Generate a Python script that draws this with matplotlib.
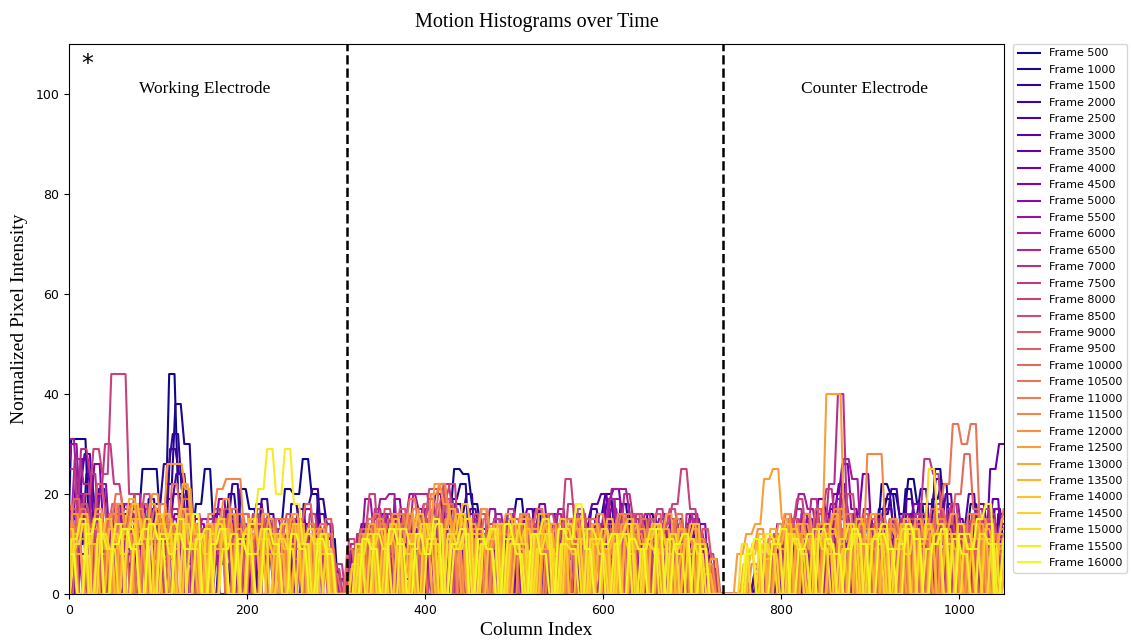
import numpy as np
import matplotlib
matplotlib.use("Agg")
import matplotlib.pyplot as plt

# ---------------- data (10-column resolution) ----------------
frames = [500 * (i + 1) for i in range(32)]

# Working electrode region: columns 0..300
left_vals = [
    [8, 31, 31, 12, 0, 6, 14, 18, 15, 25, 25, 14, 44, 20, 10, 18, 25, 12, 6, 0, 21, 17, 10, 0, 13, 21, 20, 27, 20, 12, 11],
    [0, 10, 24, 16, 8, 0, 12, 17, 9, 19, 6, 22, 38, 30, 14, 8, 0, 11, 20, 13, 7, 0, 15, 9, 0, 18, 12, 6, 19, 14, 0],
    [5, 14, 20, 9, 0, 13, 7, 16, 11, 4, 18, 26, 32, 21, 9, 0, 14, 8, 17, 5, 0, 12, 19, 11, 6, 0, 15, 9, 13, 7, 2],
    [12, 0, 8, 15, 21, 10, 0, 6, 14, 9, 17, 12, 29, 24, 16, 5, 0, 10, 15, 22, 8, 0, 11, 16, 4, 12, 0, 18, 21, 10, 6],
    [0, 18, 11, 5, 0, 9, 16, 12, 0, 7, 14, 19, 24, 15, 0, 11, 6, 14, 9, 0, 13, 18, 7, 0, 10, 15, 11, 4, 16, 9, 0],
    [10, 22, 28, 14, 0, 8, 12, 5, 16, 10, 0, 13, 20, 17, 9, 0, 12, 7, 15, 11, 0, 9, 14, 6, 0, 12, 17, 10, 5, 14, 0],
    [6, 0, 27, 19, 10, 0, 14, 9, 0, 12, 17, 8, 15, 11, 0, 7, 13, 16, 6, 0, 10, 14, 8, 0, 13, 7, 15, 11, 0, 8, 4],
    [15, 20, 9, 0, 13, 18, 6, 0, 11, 16, 9, 14, 0, 10, 15, 7, 0, 12, 8, 14, 0, 9, 13, 5, 0, 11, 14, 8, 12, 0, 3],
    [0, 12, 17, 26, 13, 0, 9, 14, 18, 7, 0, 12, 16, 10, 5, 0, 13, 19, 11, 0, 8, 12, 16, 9, 0, 14, 10, 6, 13, 8, 0],
    [18, 9, 0, 14, 22, 11, 0, 8, 13, 17, 9, 0, 15, 11, 6, 14, 0, 9, 13, 7, 16, 0, 10, 14, 8, 0, 12, 17, 9, 0, 5],
    [23, 30, 15, 8, 0, 12, 16, 9, 0, 14, 11, 6, 0, 13, 17, 10, 0, 8, 14, 11, 0, 12, 7, 15, 0, 9, 13, 6, 0, 11, 7],
    [31, 20, 12, 0, 9, 14, 18, 11, 0, 7, 13, 16, 9, 0, 12, 15, 8, 0, 11, 14, 6, 0, 10, 15, 12, 0, 8, 13, 9, 14, 0],
    [14, 27, 22, 10, 0, 13, 8, 16, 11, 0, 9, 14, 17, 8, 0, 12, 15, 10, 0, 13, 9, 16, 0, 11, 7, 14, 0, 9, 12, 6, 0],
    [0, 16, 29, 24, 12, 0, 9, 14, 20, 11, 0, 13, 8, 15, 10, 0, 12, 17, 9, 0, 14, 11, 6, 0, 13, 9, 15, 0, 10, 7, 0],
    [25, 13, 0, 20, 30, 22, 17, 9, 0, 14, 11, 7, 0, 13, 16, 9, 0, 12, 15, 8, 0, 10, 14, 11, 0, 13, 8, 16, 10, 0, 6],
    [9, 14, 20, 29, 24, 44, 44, 20, 12, 0, 15, 9, 13, 17, 10, 0, 12, 8, 14, 0, 11, 16, 9, 13, 0, 10, 14, 7, 0, 12, 5],
    [0, 11, 18, 13, 0, 16, 10, 0, 14, 20, 12, 7, 0, 15, 9, 13, 0, 11, 17, 8, 0, 14, 10, 0, 12, 16, 9, 0, 13, 8, 0],
    [17, 0, 12, 22, 15, 9, 0, 13, 18, 10, 0, 14, 11, 16, 8, 0, 12, 15, 9, 0, 13, 17, 10, 0, 11, 14, 8, 0, 12, 9, 0],
    [0, 15, 10, 0, 13, 18, 11, 0, 16, 12, 8, 0, 14, 19, 10, 0, 13, 9, 16, 11, 0, 12, 15, 8, 0, 14, 10, 0, 11, 15, 0],
    [12, 19, 0, 14, 9, 0, 16, 11, 0, 13, 17, 10, 22, 14, 0, 12, 9, 15, 0, 11, 16, 8, 0, 13, 10, 0, 14, 18, 11, 0, 4],
    [0, 13, 17, 10, 0, 15, 20, 12, 0, 9, 14, 18, 11, 0, 16, 12, 0, 14, 10, 17, 0, 13, 9, 0, 15, 11, 7, 0, 12, 14, 0],
    [14, 0, 11, 16, 9, 0, 13, 18, 14, 0, 10, 15, 12, 17, 0, 11, 14, 9, 0, 16, 12, 0, 13, 8, 15, 0, 10, 14, 0, 12, 0],
    [18, 10, 0, 13, 8, 16, 0, 12, 17, 11, 0, 14, 9, 15, 12, 0, 16, 21, 23, 23, 12, 0, 13, 9, 0, 15, 11, 0, 13, 8, 0],
    [0, 16, 11, 0, 14, 9, 18, 12, 0, 15, 20, 13, 0, 11, 16, 10, 0, 14, 19, 12, 0, 13, 9, 15, 0, 11, 14, 0, 12, 9, 0],
    [10, 0, 13, 17, 9, 0, 12, 15, 0, 18, 14, 26, 26, 21, 10, 0, 13, 9, 16, 0, 11, 14, 8, 0, 12, 16, 10, 0, 13, 8, 0],
    [13, 8, 0, 15, 11, 0, 14, 19, 10, 0, 12, 16, 9, 22, 14, 0, 11, 15, 0, 13, 9, 0, 16, 12, 0, 10, 14, 0, 11, 8, 0],
    [0, 12, 16, 10, 0, 13, 9, 0, 15, 11, 14, 0, 12, 17, 10, 0, 14, 9, 13, 0, 11, 15, 0, 12, 8, 0, 14, 10, 0, 12, 0],
    [9, 14, 0, 11, 15, 0, 13, 18, 11, 0, 14, 10, 0, 16, 12, 8, 0, 13, 10, 0, 15, 11, 0, 12, 9, 14, 0, 11, 8, 0, 0],
    [13, 0, 10, 15, 0, 12, 8, 14, 0, 11, 16, 12, 0, 14, 9, 0, 12, 15, 0, 10, 13, 0, 11, 8, 14, 0, 10, 13, 0, 9, 0],
    [0, 10, 14, 0, 12, 9, 0, 13, 10, 15, 0, 11, 14, 0, 9, 12, 0, 14, 10, 0, 12, 8, 13, 0, 11, 9, 0, 12, 10, 0, 0],
    [0, 11, 15, 0, 12, 9, 14, 0, 10, 13, 0, 12, 8, 15, 0, 11, 13, 0, 9, 12, 0, 14, 21, 29, 20, 29, 18, 10, 0, 12, 0],
    [8, 0, 12, 15, 0, 10, 13, 9, 0, 14, 11, 0, 12, 9, 16, 0, 10, 13, 0, 11, 8, 0, 13, 10, 0, 12, 9, 0, 11, 8, 0],
]

# Middle region: columns 320..720
mid_vals = [
    [4, 9, 14, 0, 6, 15, 10, 3, 12, 0, 8, 16, 25, 24, 18, 12, 9, 0, 14, 19, 12, 17, 5, 0, 10, 7, 0, 12, 16, 20, 14, 18, 9, 0, 15, 13, 11, 15, 6, 12, 8],
    [0, 6, 11, 3, 14, 8, 0, 10, 17, 12, 5, 19, 22, 9, 0, 13, 7, 15, 10, 0, 4, 12, 16, 8, 0, 11, 6, 14, 0, 9, 18, 12, 5, 16, 10, 0, 13, 8, 11, 9, 0],
    [7, 0, 12, 5, 9, 15, 3, 0, 11, 14, 8, 0, 16, 20, 7, 12, 0, 9, 6, 15, 11, 0, 8, 13, 4, 0, 10, 17, 12, 6, 0, 14, 11, 8, 0, 12, 15, 7, 10, 4, 0],
    [0, 10, 4, 13, 0, 7, 12, 9, 0, 15, 6, 11, 18, 14, 0, 8, 12, 5, 0, 10, 14, 7, 0, 12, 9, 15, 0, 6, 13, 18, 11, 0, 9, 14, 5, 0, 11, 8, 14, 6, 3],
    [3, 0, 9, 15, 7, 0, 12, 5, 14, 8, 0, 13, 10, 17, 12, 0, 6, 11, 0, 14, 8, 4, 13, 0, 9, 16, 10, 0, 17, 12, 6, 0, 15, 9, 12, 0, 7, 13, 0, 10, 5],
    [0, 8, 13, 6, 0, 11, 16, 9, 4, 0, 12, 17, 8, 13, 0, 10, 15, 6, 0, 12, 9, 14, 0, 7, 11, 0, 15, 18, 20, 12, 6, 0, 13, 10, 7, 0, 14, 9, 16, 11, 0],
    [0, 12, 7, 0, 15, 10, 5, 13, 0, 9, 14, 19, 11, 0, 8, 13, 6, 10, 0, 14, 17, 9, 0, 11, 6, 0, 12, 15, 8, 13, 0, 10, 7, 14, 0, 9, 12, 6, 13, 0, 7],
    [6, 0, 11, 16, 8, 0, 13, 9, 15, 20, 12, 0, 7, 14, 10, 0, 12, 16, 8, 0, 11, 15, 6, 0, 13, 9, 14, 0, 19, 21, 15, 8, 0, 12, 14, 7, 0, 10, 15, 9, 0],
    [9, 14, 0, 8, 12, 5, 0, 15, 18, 10, 0, 13, 9, 16, 0, 11, 7, 14, 0, 9, 13, 18, 10, 0, 15, 12, 8, 0, 14, 17, 11, 0, 9, 13, 0, 16, 10, 6, 12, 14, 0],
    [0, 10, 15, 8, 0, 19, 12, 6, 0, 14, 9, 13, 0, 11, 16, 8, 0, 13, 10, 0, 15, 9, 12, 0, 8, 14, 0, 11, 16, 9, 0, 13, 8, 15, 0, 10, 14, 7, 0, 12, 6],
    [0, 9, 19, 12, 0, 7, 15, 20, 17, 10, 0, 13, 8, 0, 14, 11, 17, 6, 0, 12, 9, 0, 15, 10, 6, 0, 12, 8, 14, 0, 19, 13, 9, 0, 11, 15, 8, 0, 13, 9, 0],
    [8, 0, 14, 19, 20, 9, 0, 12, 17, 6, 0, 15, 11, 8, 0, 13, 16, 10, 0, 9, 14, 0, 11, 17, 8, 0, 13, 9, 15, 21, 21, 16, 11, 0, 14, 9, 0, 12, 16, 10, 4],
    [10, 0, 13, 8, 16, 0, 11, 20, 20, 14, 7, 0, 12, 9, 15, 0, 10, 14, 8, 0, 13, 11, 0, 16, 9, 12, 0, 8, 14, 19, 11, 0, 12, 16, 7, 0, 13, 10, 15, 8, 0],
    [0, 12, 8, 17, 10, 0, 14, 9, 13, 19, 12, 0, 10, 15, 7, 0, 13, 11, 17, 8, 0, 12, 9, 14, 0, 11, 16, 8, 0, 13, 10, 20, 15, 0, 9, 14, 11, 0, 16, 12, 0],
    [7, 0, 15, 11, 0, 13, 9, 16, 10, 0, 22, 17, 12, 0, 9, 14, 8, 0, 12, 16, 11, 0, 14, 9, 18, 0, 10, 13, 7, 0, 15, 11, 0, 12, 17, 9, 0, 13, 10, 6, 0],
    [0, 13, 20, 9, 0, 12, 16, 11, 0, 14, 19, 22, 10, 0, 13, 8, 15, 0, 11, 9, 14, 0, 16, 12, 23, 15, 0, 10, 13, 7, 0, 12, 16, 9, 0, 14, 18, 25, 17, 11, 8],
    [11, 0, 14, 9, 17, 12, 0, 10, 15, 21, 21, 13, 0, 11, 16, 9, 0, 14, 10, 0, 12, 17, 8, 0, 13, 10, 15, 0, 9, 14, 11, 0, 16, 10, 0, 13, 17, 12, 0, 9, 5],
    [0, 9, 14, 0, 12, 17, 10, 0, 15, 11, 19, 0, 13, 9, 16, 0, 12, 14, 8, 0, 11, 15, 0, 13, 9, 17, 12, 0, 10, 14, 0, 12, 8, 15, 0, 11, 14, 9, 0, 13, 7],
    [6, 13, 0, 10, 15, 9, 0, 12, 18, 14, 0, 11, 16, 10, 0, 13, 9, 0, 15, 11, 0, 12, 8, 14, 0, 10, 15, 11, 0, 13, 9, 0, 14, 10, 16, 0, 12, 8, 0, 11, 0],
    [0, 10, 15, 0, 12, 8, 16, 0, 11, 14, 22, 18, 0, 13, 9, 15, 0, 12, 10, 0, 14, 17, 9, 0, 11, 13, 0, 15, 10, 0, 12, 16, 0, 11, 14, 8, 0, 13, 9, 0, 6],
    [9, 0, 12, 16, 10, 0, 14, 19, 13, 0, 11, 15, 8, 0, 13, 17, 12, 0, 10, 14, 0, 12, 16, 9, 0, 15, 11, 0, 13, 8, 14, 0, 10, 15, 0, 12, 9, 16, 0, 11, 4],
    [0, 11, 8, 14, 0, 16, 12, 0, 13, 18, 10, 0, 15, 11, 0, 9, 14, 0, 12, 16, 10, 0, 13, 9, 15, 0, 11, 14, 0, 12, 16, 9, 0, 13, 10, 0, 15, 11, 0, 9, 0],
    [5, 12, 0, 15, 10, 0, 13, 17, 11, 20, 22, 14, 0, 12, 9, 0, 14, 11, 0, 16, 12, 0, 13, 9, 0, 15, 10, 13, 0, 11, 16, 0, 12, 9, 14, 0, 10, 13, 0, 11, 6],
    [0, 8, 13, 0, 11, 16, 9, 0, 14, 12, 0, 15, 10, 0, 13, 17, 11, 0, 12, 9, 15, 0, 13, 10, 0, 14, 11, 0, 16, 12, 0, 10, 14, 0, 12, 9, 0, 13, 11, 0, 5],
    [0, 12, 9, 0, 14, 10, 16, 0, 13, 22, 18, 11, 0, 14, 9, 0, 12, 16, 10, 0, 13, 9, 14, 0, 11, 15, 0, 12, 10, 0, 14, 9, 13, 0, 11, 16, 0, 10, 13, 0, 7],
    [0, 10, 14, 0, 12, 8, 0, 15, 11, 0, 13, 17, 10, 0, 12, 9, 14, 0, 11, 15, 0, 16, 12, 0, 10, 13, 0, 14, 9, 0, 12, 15, 0, 11, 8, 13, 0, 10, 14, 0, 0],
    [0, 9, 0, 13, 10, 15, 0, 12, 8, 14, 0, 11, 16, 12, 0, 10, 13, 0, 15, 9, 0, 12, 14, 0, 11, 8, 13, 0, 10, 15, 0, 12, 9, 0, 14, 11, 0, 13, 8, 0, 4],
    [0, 11, 0, 9, 14, 0, 12, 16, 10, 0, 13, 9, 18, 12, 0, 11, 14, 0, 10, 13, 0, 12, 8, 15, 0, 11, 13, 0, 9, 12, 0, 14, 10, 0, 12, 8, 0, 11, 14, 0, 0],
    [6, 0, 10, 13, 0, 11, 8, 0, 14, 10, 0, 12, 16, 0, 13, 9, 0, 11, 14, 10, 0, 12, 9, 0, 14, 11, 0, 10, 13, 0, 12, 8, 0, 11, 14, 0, 9, 12, 0, 10, 0],
    [0, 8, 12, 0, 10, 13, 0, 9, 14, 11, 0, 12, 9, 15, 0, 11, 13, 0, 10, 14, 0, 9, 12, 0, 13, 10, 0, 11, 8, 0, 12, 14, 0, 10, 9, 0, 12, 0, 11, 8, 0],
    [0, 10, 0, 12, 9, 0, 13, 10, 0, 11, 14, 0, 9, 12, 0, 10, 13, 0, 11, 8, 0, 12, 15, 0, 10, 9, 0, 13, 11, 0, 10, 12, 0, 9, 13, 0, 11, 8, 0, 10, 0],
    [0, 11, 9, 0, 13, 10, 0, 12, 8, 15, 0, 10, 13, 0, 11, 9, 0, 14, 10, 0, 12, 8, 0, 13, 11, 18, 9, 0, 10, 12, 0, 11, 9, 0, 13, 0, 10, 12, 0, 9, 0],
]

# Counter electrode region: columns 740..1050
right_vals = [
    [0, 0, 0, 0, 3, 8, 0, 5, 12, 6, 0, 9, 14, 0, 10, 7, 0, 12, 22, 20, 16, 23, 18, 9, 25, 15, 6, 12, 18, 0, 8, 14],
    [0, 0, 0, 4, 0, 6, 10, 0, 8, 13, 5, 0, 11, 7, 0, 14, 9, 17, 20, 12, 21, 15, 8, 19, 22, 10, 0, 14, 6, 11, 17, 9],
    [0, 0, 2, 0, 5, 0, 9, 4, 0, 11, 7, 13, 0, 8, 12, 0, 6, 15, 19, 11, 0, 16, 21, 13, 7, 18, 12, 0, 9, 15, 5, 11],
    [0, 0, 0, 0, 0, 7, 3, 0, 10, 6, 0, 12, 8, 0, 5, 13, 9, 0, 16, 21, 14, 9, 0, 18, 23, 11, 5, 0, 13, 8, 0, 16],
    [0, 0, 0, 5, 0, 0, 8, 11, 0, 6, 14, 9, 0, 12, 7, 0, 11, 15, 8, 0, 19, 13, 6, 16, 10, 0, 14, 20, 9, 0, 12, 7],
    [0, 0, 0, 0, 4, 9, 0, 13, 7, 0, 11, 16, 10, 0, 14, 8, 0, 12, 17, 9, 0, 13, 18, 11, 6, 0, 15, 10, 0, 13, 19, 8],
    [0, 0, 0, 0, 0, 6, 11, 0, 8, 14, 0, 10, 17, 22, 12, 0, 9, 14, 6, 0, 12, 16, 9, 0, 14, 20, 11, 0, 16, 9, 25, 30],
    [0, 0, 0, 0, 7, 0, 10, 15, 0, 12, 19, 14, 8, 0, 16, 24, 11, 0, 13, 8, 0, 15, 11, 0, 9, 14, 7, 0, 18, 12, 0, 10],
    [0, 0, 0, 0, 0, 0, 12, 8, 0, 15, 10, 0, 20, 26, 17, 9, 0, 14, 11, 0, 13, 18, 9, 0, 12, 16, 8, 14, 0, 11, 17, 13],
    [0, 0, 0, 0, 0, 9, 14, 0, 11, 7, 0, 13, 18, 10, 0, 12, 15, 0, 9, 14, 0, 11, 16, 7, 0, 13, 9, 0, 15, 11, 6, 14],
    [0, 0, 0, 0, 0, 0, 8, 13, 0, 16, 11, 0, 14, 19, 9, 0, 17, 12, 7, 0, 13, 10, 0, 15, 11, 0, 18, 12, 0, 9, 14, 8],
    [0, 0, 0, 0, 6, 0, 11, 15, 20, 17, 12, 0, 14, 27, 23, 10, 0, 15, 9, 0, 12, 16, 0, 10, 14, 8, 0, 13, 17, 9, 0, 12],
    [0, 0, 0, 0, 0, 8, 0, 12, 17, 10, 0, 15, 11, 20, 14, 0, 9, 13, 0, 11, 16, 10, 0, 14, 9, 17, 0, 12, 8, 15, 0, 10],
    [0, 0, 0, 0, 0, 7, 12, 0, 15, 10, 19, 13, 22, 40, 16, 0, 11, 14, 8, 0, 15, 10, 0, 13, 18, 9, 0, 14, 11, 0, 16, 9],
    [0, 0, 0, 0, 0, 0, 9, 13, 0, 11, 16, 21, 14, 0, 10, 15, 9, 0, 13, 8, 0, 16, 27, 24, 12, 18, 10, 0, 14, 9, 0, 12],
    [0, 0, 0, 0, 0, 10, 0, 14, 19, 12, 0, 15, 9, 17, 0, 12, 8, 14, 0, 10, 13, 0, 16, 11, 0, 14, 9, 0, 12, 17, 0, 10],
    [0, 0, 0, 0, 0, 0, 11, 16, 10, 0, 13, 8, 0, 15, 20, 12, 0, 14, 9, 0, 11, 15, 0, 13, 17, 10, 0, 12, 16, 8, 0, 11],
    [0, 0, 0, 0, 0, 12, 0, 15, 10, 0, 17, 12, 0, 14, 9, 16, 0, 11, 15, 0, 13, 9, 0, 16, 12, 0, 14, 10, 0, 15, 11, 0],
    [0, 0, 0, 0, 0, 0, 9, 14, 0, 12, 17, 10, 0, 13, 8, 0, 15, 11, 0, 14, 9, 0, 12, 17, 0, 10, 14, 0, 13, 9, 0, 12],
    [0, 0, 0, 0, 0, 11, 0, 14, 9, 16, 0, 12, 15, 0, 10, 13, 0, 16, 11, 0, 14, 9, 0, 12, 17, 14, 20, 28, 17, 0, 11, 8],
    [0, 0, 0, 0, 0, 0, 10, 15, 0, 12, 8, 14, 0, 11, 16, 0, 13, 9, 0, 15, 11, 0, 14, 10, 17, 22, 34, 30, 34, 15, 0, 12],
    [0, 0, 0, 0, 8, 0, 12, 0, 14, 10, 0, 13, 17, 0, 11, 15, 9, 0, 14, 12, 0, 10, 15, 0, 13, 9, 0, 16, 11, 0, 12, 17],
    [0, 0, 0, 6, 0, 10, 14, 0, 12, 16, 0, 11, 15, 0, 13, 9, 28, 28, 14, 12, 0, 13, 9, 0, 15, 11, 0, 12, 16, 0, 10, 13],
    [0, 0, 0, 9, 13, 0, 11, 16, 0, 14, 10, 0, 12, 17, 11, 0, 13, 9, 0, 15, 12, 0, 10, 14, 0, 13, 9, 0, 11, 15, 0, 12],
    [0, 8, 12, 14, 23, 25, 15, 0, 12, 9, 14, 40, 40, 13, 0, 11, 16, 0, 13, 9, 0, 15, 11, 0, 12, 16, 0, 10, 14, 0, 9, 12],
    [0, 0, 6, 10, 0, 13, 9, 0, 14, 11, 0, 12, 16, 0, 10, 14, 0, 13, 9, 0, 15, 11, 0, 12, 14, 0, 11, 9, 0, 13, 10, 15],
    [0, 0, 0, 8, 12, 0, 10, 14, 0, 11, 8, 0, 13, 10, 0, 15, 11, 0, 12, 9, 14, 0, 10, 13, 0, 12, 9, 0, 14, 11, 0, 10],
    [0, 0, 9, 0, 7, 11, 0, 13, 9, 0, 12, 8, 0, 14, 10, 0, 11, 13, 0, 9, 12, 0, 14, 10, 0, 12, 8, 0, 11, 14, 0, 9],
    [0, 0, 0, 0, 10, 8, 0, 12, 9, 0, 11, 14, 0, 9, 12, 0, 13, 10, 0, 11, 8, 13, 0, 10, 12, 0, 14, 9, 0, 11, 0, 8],
    [0, 0, 10, 0, 11, 8, 0, 12, 10, 0, 13, 9, 0, 11, 14, 0, 10, 12, 0, 9, 13, 0, 11, 25, 14, 10, 0, 12, 9, 0, 10, 0],
    [0, 0, 0, 9, 0, 12, 10, 0, 11, 8, 0, 13, 10, 0, 9, 12, 0, 11, 14, 0, 10, 13, 0, 9, 12, 0, 11, 8, 0, 12, 10, 0],
    [0, 0, 8, 11, 0, 10, 13, 0, 9, 12, 0, 11, 8, 0, 13, 10, 0, 12, 9, 0, 14, 11, 0, 10, 13, 0, 12, 9, 15, 18, 0, 11],
]

boundaries = [312, 734]
region_labels = ["Working Electrode", "Counter Electrode"]


def plateau_path(xc, v, half=3.0):
    """Each reading is drawn as a short plateau joined to the next by a steep edge."""
    xs = np.empty(2 * len(xc))
    ys = np.empty(2 * len(xc))
    xs[0::2] = xc - half
    xs[1::2] = xc + half
    ys[0::2] = v
    ys[1::2] = v
    return xs, ys


# ---------------- plot ----------------
fig = plt.figure(figsize=(11.31, 6.4), dpi=100)
ax = fig.add_axes([69 / 1131, 46 / 640, 935 / 1131, 550 / 640])

colors = plt.cm.plasma(np.linspace(0, 1, len(frames)))
step = 10
for i, fr in enumerate(frames):
    L = np.asarray(left_vals[i], float)
    M = np.asarray(mid_vals[i], float)
    R = np.asarray(right_vals[i], float)
    shift = ((i * 7) % 10) - 4.5          # readings of each frame are staggered by a few columns
    xl = 0 + step * np.arange(len(L))
    xm = 320 + step * np.arange(len(M))
    xr = 740 + step * np.arange(len(R))
    xc = np.concatenate([xl, [310], xm, [730], xr]) + shift
    y = np.concatenate([L, [0], M, [0], R])
    xs, ys = plateau_path(xc, y)
    ax.plot(xs, ys, color=colors[i], lw=1.5, label=f"Frame {fr}")

for b in boundaries:
    ax.axvline(b, color="black", linestyle="--", lw=1.8)

ax.set_xlim(0, 1050)
ax.set_ylim(0, 110)
ax.set_xticks([0, 200, 400, 600, 800, 1000])
ax.set_yticks([0, 20, 40, 60, 80, 100])
ax.tick_params(labelsize=9)

serif = "Liberation Serif"
ax.set_title("Motion Histograms over Time", fontfamily=serif, fontsize=14.5, pad=12)
ax.set_xlabel("Column Index", fontfamily=serif, fontsize=14, labelpad=4)
ax.set_ylabel("Normalized Pixel Intensity", fontfamily=serif, fontsize=14, labelpad=5)

ax.text(152, 101, region_labels[0], fontfamily=serif, fontsize=12.5, ha="center", va="center")
ax.text(893, 101, region_labels[1], fontfamily=serif, fontsize=12.5, ha="center", va="center")
ax.text(21, 106, "*", fontsize=17, ha="center", va="center")

ax.legend(loc="upper left", bbox_to_anchor=(1.01, 1.0), borderaxespad=0,
          fontsize=8, handlelength=2.0, labelspacing=0.58)

fig.savefig("out.png", dpi=100)
